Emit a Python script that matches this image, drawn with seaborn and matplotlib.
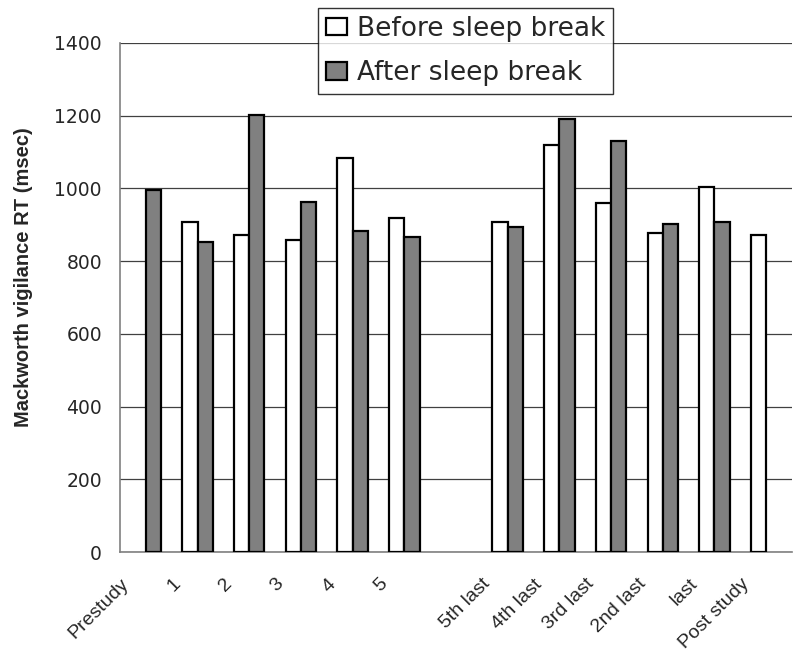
import numpy as np
import pandas as pd
import matplotlib
matplotlib.use("Agg")
import matplotlib.pyplot as plt
import seaborn as sns

sessions = ["Prestudy", "1", "2", "3", "4", "5", " ",
            "5th last", "4th last", "3rd last", "2nd last", "last", "Post study"]
before_break = [np.nan, 908, 873, 858, 1084, 918, np.nan,
                908, 1120, 959, 878, 1005, 873]
after_break = [995, 852, 1203, 963, 883, 867, np.nan,
               893, 1191, 1130, 903, 908, np.nan]
phases = ["Before sleep break", "After sleep break"]
y_ticks = [0, 200, 400, 600, 800, 1000, 1200, 1400]

df = pd.DataFrame({
    "session": sessions * 2,
    "phase": [phases[0]] * len(sessions) + [phases[1]] * len(sessions),
    "rt": before_break + after_break,
})

sns.set_style("white")
plt.rcParams["font.family"] = ["DejaVu Sans"]

fig = plt.figure(figsize=(7.94, 6.53), dpi=100)
ax = fig.add_axes([120 / 794, 101 / 653, 672 / 794, 509 / 653])

sns.barplot(data=df, x="session", y="rt", hue="phase", order=sessions,
            hue_order=phases, palette={phases[0]: "white", phases[1]: "#808080"},
            saturation=1, errorbar=None, width=0.59, edgecolor="black",
            linewidth=1.6, ax=ax, zorder=3)

ax.set_xlim(-0.5, len(sessions) - 0.5)
ax.set_ylim(0, 1400)
ax.set_yticks(y_ticks)
ax.set_yticklabels([str(v) for v in y_ticks], fontsize=13.5)
ax.yaxis.grid(True, color="#404040", linewidth=0.9, zorder=0)
ax.xaxis.grid(False)

# category labels sit at the left boundary of each category
ax.set_xticks(np.arange(len(sessions) + 1) - 0.5)
ax.set_xticklabels(sessions + [""], rotation=45, ha="right",
                   rotation_mode="anchor", fontsize=14,
                   family=["Liberation Sans", "DejaVu Sans"])
ax.tick_params(axis="x", direction="out", length=6, width=1, color="#808080", pad=11)
ax.tick_params(axis="y", direction="out", length=7, width=1, color="#808080", pad=6)

for side in ["top", "right"]:
    ax.spines[side].set_visible(False)
for side in ["left", "bottom"]:
    ax.spines[side].set_color("#808080")
    ax.spines[side].set_linewidth(1.2)

ax.set_xlabel("")
ax.set_ylabel("Mackworth vigilance RT (msec)", fontsize=14.5, fontweight="bold",
              family=["Liberation Sans", "DejaVu Sans"])
ax.yaxis.set_label_coords(-0.1295, 0.54)

handles, labels = ax.get_legend_handles_labels()
leg = ax.legend(handles, labels, loc="upper left",
                bbox_to_anchor=(318 / 794, 1 - 8 / 653), bbox_transform=fig.transFigure,
                fontsize=19, frameon=True, fancybox=False, edgecolor="black",
                handlelength=0.78, handleheight=0.64, handletextpad=0.4,
                labelspacing=0.69, borderpad=0.3, borderaxespad=0)
leg.get_frame().set_linewidth(1.0)
leg.set_zorder(5)

fig.savefig("out.png", dpi=100, facecolor="white")
